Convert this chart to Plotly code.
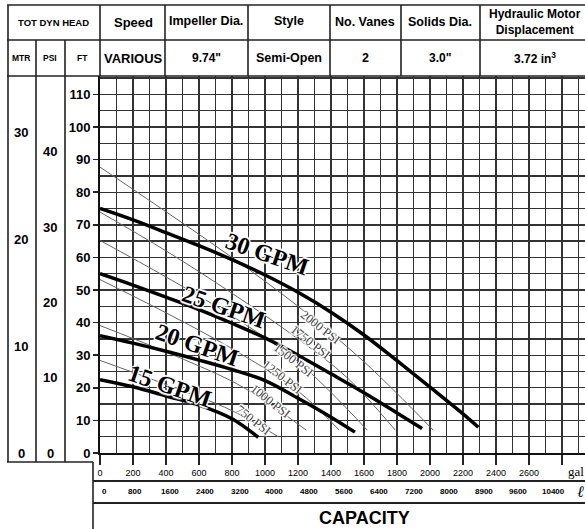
import plotly.graph_objects as go

# ---------------- data ----------------
gal_tick_vals = [0, 200, 400, 600, 800, 1000, 1200, 1400, 1600, 1800, 2000, 2200, 2400, 2600, 2800]
gal_tick_text = ["0", "200", "400", "600", "800", "1000", "1200", "1400", "1600", "1800",
                 "2000", "2200", "2400", "2600", " "]
liter_vals = [0, 800, 1600, 2400, 3200, 4000, 4800, 5600, 6400, 7200, 8000, 8800, 9600, 10400]
liter_text = ["0", "800", "1600", "2400", "3200", "4000", "4800", "5600", "6400", "7200",
              "8000", "8900", "9600", "10400"]
ft_ticks = [0, 10, 20, 30, 40, 50, 60, 70, 80, 90, 100, 110]
mtr_ticks = [0, 10, 20, 30]
psi_ticks = [0, 10, 20, 30, 40]

gpm_names = ["30 GPM", "25 GPM", "20 GPM", "15 GPM"]
gpm_x = [
    [0, 200, 400, 600, 800, 1000, 1200, 1400, 1600, 1800, 2000, 2200, 2293],
    [0, 200, 400, 600, 800, 1000, 1200, 1400, 1600, 1800, 1952],
    [0, 200, 400, 600, 800, 1000, 1200, 1400, 1545],
    [0, 200, 400, 600, 800, 959],
]
gpm_y = [
    [75, 71.5, 67.6, 63.6, 59.3, 54.6, 49.3, 43.2, 36.2, 28.3, 20.2, 12, 7.9],
    [55, 51.5, 47.8, 44, 39.8, 35.3, 30, 24.3, 18.5, 12.3, 7.5],
    [36, 33.7, 31.2, 28.5, 25.6, 22.2, 16.8, 11, 6.4],
    [22.5, 20.3, 17.5, 14.7, 10.5, 4.8],
]
gpm_label_x = [1012, 752, 588, 424]
gpm_label_y = [60.9, 44.9, 33.0, 20.7]

psi_names = ["2000 PSI", "1750 PSI", "1500 PSI", "1250 PSI", "1000 PSI", "750 PSI"]
psi_x = [
    [0, 400, 800, 1200, 1600, 2020],
    [0, 400, 800, 1200, 1500, 1790],
    [0, 400, 800, 1200, 1620],
    [0, 400, 800, 1200, 1450],
    [0, 400, 800, 1000, 1250],
    [0, 400, 800, 1080],
]
psi_y = [
    [87.7, 74, 60, 45, 28, 7],
    [73.9, 62, 49, 35, 23, 7],
    [65.2, 54, 42, 28, 7],
    [53.2, 43, 32, 19, 7],
    [39.1, 31, 22, 16, 7],
    [28.4, 21, 13, 5],
]
psi_label_x = [1333, 1273, 1170, 1103, 1030, 927]
psi_label_y = [38.5, 33.9, 28.4, 23.2, 15.8, 10.0]

header_row1 = ["<b>TOT DYN HEAD</b>", "<b>Speed</b>", "<b>Impeller Dia.</b>", "<b>Style</b>",
               "<b>No. Vanes</b>", "<b>Solids Dia.</b>", "<b>Hydraulic Motor<br>Displacement</b>"]
header_row2 = ["<b>MTR</b>", "<b>PSI</b>", "<b>FT</b>", "<b>VARIOUS</b>", "<b>9.74\"</b>",
               "<b>Semi-Open</b>", "<b>2</b>", "<b>3.0\"</b>", "<b>3.72 in<sup>3</sup></b>"]

# ---------------- geometry (page pixels) ----------------
W, H = 585, 529
PL, PT, PB = 100, 76, 453          # plot-area edges
PW = W - PL
PH = PB - PT
ML, MT, MR, MB = PL, PT, 0, H - PB
XMAX = PW / 0.165
YMAX = PH / 3.26


def pxx(x):
    return (x - PL) / PW


def pxy(y):
    return (PB - y) / PH


FONT = "Arial, Liberation Sans, sans-serif"
SERIF = "Times New Roman, Liberation Serif, serif"

fig = go.Figure()

for xs, ys, nm in zip(psi_x, psi_y, psi_names):
    fig.add_trace(go.Scatter(x=xs, y=ys, mode="lines", name=nm, line=dict(color="#666", width=1, shape="spline"),
                             hoverinfo="skip"))
for xs, ys, nm in zip(gpm_x, gpm_y, gpm_names):
    fig.add_trace(go.Scatter(x=xs, y=ys, mode="lines", name=nm, line=dict(color="black", width=3.5, shape="spline"),
                             hoverinfo="skip"))

ann = []
halo = "1px 1px 0px white, -1px -1px 0px white, 1px -1px 0px white, -1px 1px 0px white, 0px 2px 1px white, 0px -2px 1px white"


def A(**kw):
    d = dict(showarrow=False, xanchor="center", yanchor="middle")
    d.update(kw)
    ann.append(d)


for nm, x, y in zip(gpm_names, gpm_label_x, gpm_label_y):
    A(x=x, y=y, xref="x", yref="y", text="<b>" + nm + "</b>", textangle=19,
      font=dict(family=SERIF, size=24, color="black", shadow=halo))
for nm, x, y in zip(psi_names, psi_label_x, psi_label_y):
    A(x=x, y=y, xref="x", yref="y", text=nm, textangle=38,
      font=dict(family=SERIF, size=12.5, color="#444", shadow=halo))

# left value columns
for v in mtr_ticks:
    A(x=pxx(21), y=v * 3.281, xref="paper", yref="y", text="<b>%d</b>" % v,
      font=dict(family=FONT, size=13, color="black"))
for v in psi_ticks:
    A(x=pxx(50), y=v * 2.31, xref="paper", yref="y", text="<b>%d</b>" % v,
      font=dict(family=FONT, size=13, color="black"))

# liters row
for v, t in zip(liter_vals, liter_text):
    A(x=v / 3.785, y=pxy(491), xref="x", yref="paper", text="<b>%s</b>" % t,
      xanchor="left" if v == 0 else "center",
      font=dict(family=FONT, size=8, color="black"))

# header cells
row1_x = [53, 133, 206, 289, 365, 440, 535]
row2_x = [21, 50, 82, 133, 206, 289, 365, 440, 535]
row1_y = [22, 22, 21, 21, 22, 22, 22]
row1_sz = [9.5, 13, 12.5, 12.5, 12.5, 12.5, 12]
row2_sz = [8.5, 8.5, 8.5, 13, 12, 12.5, 12.5, 12, 12]
for t, x, y, s in zip(header_row1, row1_x, row1_y, row1_sz):
    A(x=pxx(x), y=pxy(y), xref="paper", yref="paper", text=t,
      font=dict(family=FONT, size=s, color="black"))
for t, x, s in zip(header_row2, row2_x, row2_sz):
    A(x=pxx(x), y=pxy(58), xref="paper", yref="paper", text=t,
      font=dict(family=FONT, size=s, color="black"))

A(x=pxx(364), y=pxy(518), xref="paper", yref="paper", text="<b>CAPACITY</b>",
  font=dict(family=FONT, size=18, color="black"))
A(x=pxx(566), y=pxy(471), xref="paper", yref="paper", text="gal", xanchor="left",
  font=dict(family=SERIF, size=13, color="black"))
A(x=pxx(575), y=pxy(491), xref="paper", yref="paper", text="<i>ℓ</i>", xanchor="left",
  font=dict(family="DejaVu Serif", size=16, color="black"))

# table lines
LC = "#222"
shapes = []


def hline(y, x0, x1, w=1.6):
    shapes.append(dict(type="line", xref="paper", yref="paper", x0=pxx(x0), x1=pxx(x1), y0=pxy(y), y1=pxy(y),
                       line=dict(color=LC, width=w), layer="above"))


def vline(x, y0, y1, w=1.6):
    shapes.append(dict(type="line", xref="paper", yref="paper", x0=pxx(x), x1=pxx(x), y0=pxy(y0), y1=pxy(y1),
                       line=dict(color=LC, width=w), layer="above"))


hline(5, 7, 590)
hline(40, 7, 590)
hline(76, 7, 590)
vline(8, 5, 462)
for x in [100, 165, 248, 330, 401, 480]:
    vline(x, 5, 76)
vline(36, 40, 462)
vline(65, 40, 462)
hline(462, 7, 93)
vline(93, 462, 530)
hline(481, 93, 590, 2.2)
hline(503, 93, 590, 2.2)

fig.update_layout(
    width=W, height=H,
    margin=dict(l=ML, r=MR, t=MT, b=MB, pad=0),
    paper_bgcolor="white", plot_bgcolor="white",
    showlegend=False,
    annotations=ann, shapes=shapes,
    xaxis=dict(range=[0, XMAX], tickvals=gal_tick_vals, ticktext=gal_tick_text,
               ticks="outside", ticklen=10, tickwidth=1.5, tickcolor="#222",
               showgrid=True, gridcolor="#333", gridwidth=1.4,
               minor=dict(dtick=100, showgrid=True, gridcolor="#333", gridwidth=1.4, ticks=""),
               showline=True, linecolor="#111", linewidth=2, zeroline=False,
               tickfont=dict(family=FONT, size=9, color="black"), fixedrange=True),
    yaxis=dict(range=[0, YMAX], tickvals=ft_ticks, ticktext=["<b>%d</b>" % v for v in ft_ticks],
               ticks="outside", ticklen=5, tickwidth=1.5, tickcolor="#222",
               showgrid=True, gridcolor="#333", gridwidth=1.4,
               minor=dict(dtick=5, showgrid=True, gridcolor="#333", gridwidth=1.4, ticks=""),
               showline=True, linecolor="#111", linewidth=2, zeroline=False,
               tickfont=dict(family=FONT, size=13, color="black"), fixedrange=True),
)

fig.write_html(
    "out.html",
    config={"displayModeBar": False, "staticPlot": True},
    post_script="document.documentElement.style.margin='0';document.body.style.margin='0';"
                "document.documentElement.style.overflow='hidden';document.body.style.overflow='hidden';",
)
